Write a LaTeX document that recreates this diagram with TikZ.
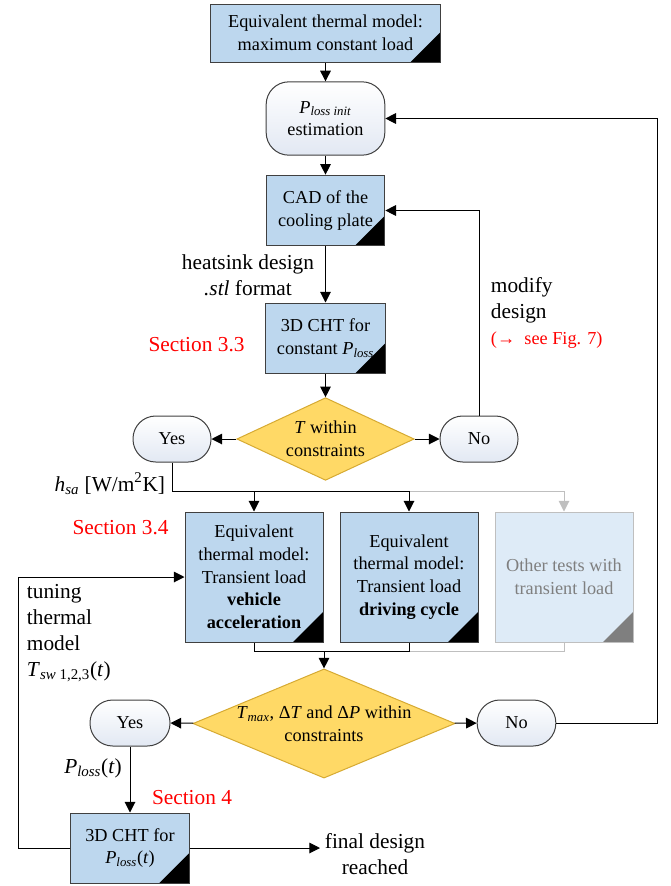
\documentclass[tikz,border=0pt]{standalone}
\usepackage{fontspec}
\setmainfont{Liberation Serif}
\usepackage{tikz}
\usetikzlibrary{arrows.meta,shapes.geometric}

\newcommand{\Ploss}{\textit{P}\textsubscript{\textit{loss}}}

\definecolor{boxblue}{RGB}{189,215,238}
\definecolor{palblue}{RGB}{222,235,247}
\definecolor{decgold}{RGB}{255,217,102}
\definecolor{decedge}{RGB}{214,170,50}
\definecolor{termgrey}{RGB}{226,232,243}
\definecolor{lightline}{RGB}{191,191,191}
\definecolor{darktext}{RGB}{127,127,127}
\definecolor{edgegrey}{RGB}{64,64,64}

\begin{document}
\begin{tikzpicture}[x=0.75pt,y=-0.75pt,>={Triangle[length=8pt,width=8pt]},line width=0.75pt,
  font=\fontsize{13.7}{17}\selectfont]
\tikzset{blockbox/.style={draw=edgegrey,fill=boxblue,align=center,inner sep=2pt,
    path picture={\fill[#1] (path picture bounding box.south east) -- ++(-22.5pt,0pt) -- ++(22.5pt,22.5pt) -- cycle;}},
  blockbox/.default=black}
\tikzset{termbox/.style={draw=edgegrey,rounded corners=17pt,top color=white,bottom color=termgrey,align=center}}
\tikzset{decbox/.style={diamond,draw=decedge,fill=decgold,align=center}}
\tikzset{lbl/.style={font=\fontsize{16}{19.5}\selectfont,align=center}}
\tikzset{seclbl/.style={lbl,text=red}}
\useasboundingbox (0,0) rectangle (671,886);

  % main column
  \node[blockbox,minimum width=172.5pt,minimum height=43.5pt] (InitModel) at (325.5,33) {Equivalent thermal model:\\maximum constant load};
  \node[termbox,minimum width=89pt,minimum height=55pt]        (PlossInit) at (325.5,118.5) {\textit{P}\textsubscript{\textit{loss init}}\\estimation};
  \node[blockbox,minimum width=89pt,minimum height=53pt]       (CoolingCAD) at (325.5,210.5) {CAD of the\\cooling plate};
  \node[blockbox,minimum width=90pt,minimum height=52.5pt]     (CHTconst) at (325.5,338) {3D CHT for\\constant \Ploss};
  \node[decbox,minimum width=133pt,minimum height=61.5pt,inner xsep=-8pt,inner ysep=-4pt] (TCheck) at (325.5,439) {\textit{T} within\\constraints};
  \node[termbox,minimum width=58.5pt,minimum height=34.5pt]    (YesA) at (172,439) {Yes};
  \node[termbox,minimum width=58.5pt,minimum height=34.5pt]    (NoA) at (479,439) {No};

  % transient tests
  \node[blockbox,minimum width=103.5pt,minimum height=97.5pt]  (AccelTest) at (254,577) {Equivalent\\thermal model:\\Transient load\\\textbf{vehicle}\\\textbf{acceleration}};
  \node[blockbox,minimum width=103.5pt,minimum height=97.5pt]  (DriveTest) at (409,577) {Equivalent\\thermal model:\\Transient load\\\textbf{driving cycle}};
  \node[blockbox=darktext,draw=lightline,fill=palblue,text=darktext,minimum width=103.5pt,minimum height=97.5pt] (OtherTest) at (564,577) {Other tests with\\transient load};

  \node[decbox,minimum width=196.5pt,minimum height=80pt,inner xsep=-30pt,inner ysep=-8pt] (LimitCheck) at (324,723.5) {\textit{T}\textsubscript{\textit{max}}, Δ\textit{T} and Δ\textit{P} within\\constraints};
  \node[termbox,minimum width=60pt,minimum height=34.5pt]      (YesB) at (130,723) {Yes};
  \node[termbox,minimum width=59pt,minimum height=34.5pt]      (NoB) at (516.5,723) {No};
  \node[blockbox,minimum width=89pt,minimum height=52.5pt]     (CHTtransient) at (130,848) {3D CHT for\\\Ploss(\textit{t})};

  % labels
  \node[lbl]                     (StlLabel) at (248,275) {heatsink design\\\textit{.stl} format};
  \node[lbl,align=left,anchor=west] (ModifyLabel) at (486,313) {modify\\design\\{\color{red}\fontsize{13.7}{19.5}\selectfont(→ \ see Fig. 7)}};
  \node[seclbl]                  (SecConst) at (196.5,345) {Section 3.3};
  \node[lbl,anchor=east]         (HsaLabel) at (170,484) {\textit{h}\textsubscript{\textit{sa}} [W/m\textsuperscript{2}K]};
  \node[seclbl]                  (SecTrans) at (120.5,528) {Section 3.4};
  \node[lbl,align=left,anchor=west] (TuneLabel) at (22,633) {tuning\\thermal\\model\\\textit{T}\textsubscript{\textit{sw} 1,2,3}(\textit{t})};
  \node[lbl]                     (PlossLabel) at (93,768) {\Ploss(\textit{t})};
  \node[seclbl]                  (SecFour) at (192,798) {Section 4};
  \node[lbl]                     (FinalDesign) at (375,854) {final design\\reached};

  \coordinate (BusY) at (0,491);
  \coordinate (MergeY) at (0,651);
  \coordinate (LoopRight) at (657,0);
  \coordinate (LoopLeft) at (18,0);

  \path[->] (InitModel) edge (PlossInit)
        (PlossInit) edge (CoolingCAD)
        (CoolingCAD) edge (CHTconst)
        (CHTconst) edge (TCheck)
        (TCheck) edge (YesA)
        (TCheck) edge (NoA)
        (LimitCheck) edge (YesB)
        (LimitCheck) edge (NoB)
        (YesB) edge (CHTtransient);

  \draw[->] (NoA.north) |- (CoolingCAD.east);
  \draw[->,lightline] (DriveTest.north |- BusY) -| (OtherTest.north);
  \draw (YesA.south) |- (DriveTest.north |- BusY);
  \draw[->] (AccelTest.north |- BusY) -- (AccelTest.north);
  \draw[->] (DriveTest.north |- BusY) -- (DriveTest.north);

  \draw[lightline] (DriveTest.south |- MergeY) -| (OtherTest.south);
  \draw (AccelTest.south) |- (DriveTest.south |- MergeY) -- (DriveTest.south);
  \draw[->] (LimitCheck.north |- MergeY) -- (LimitCheck.north);

  \draw[->] (NoB.east) -| (LoopRight |- PlossInit.east) -- (PlossInit.east);
  \draw[->] (CHTtransient.west) -| (LoopLeft |- AccelTest.west) -- (AccelTest.west);
  \draw[->] (CHTtransient.east) -- (CHTtransient.east -| FinalDesign.west);
\end{tikzpicture}
\end{document}
